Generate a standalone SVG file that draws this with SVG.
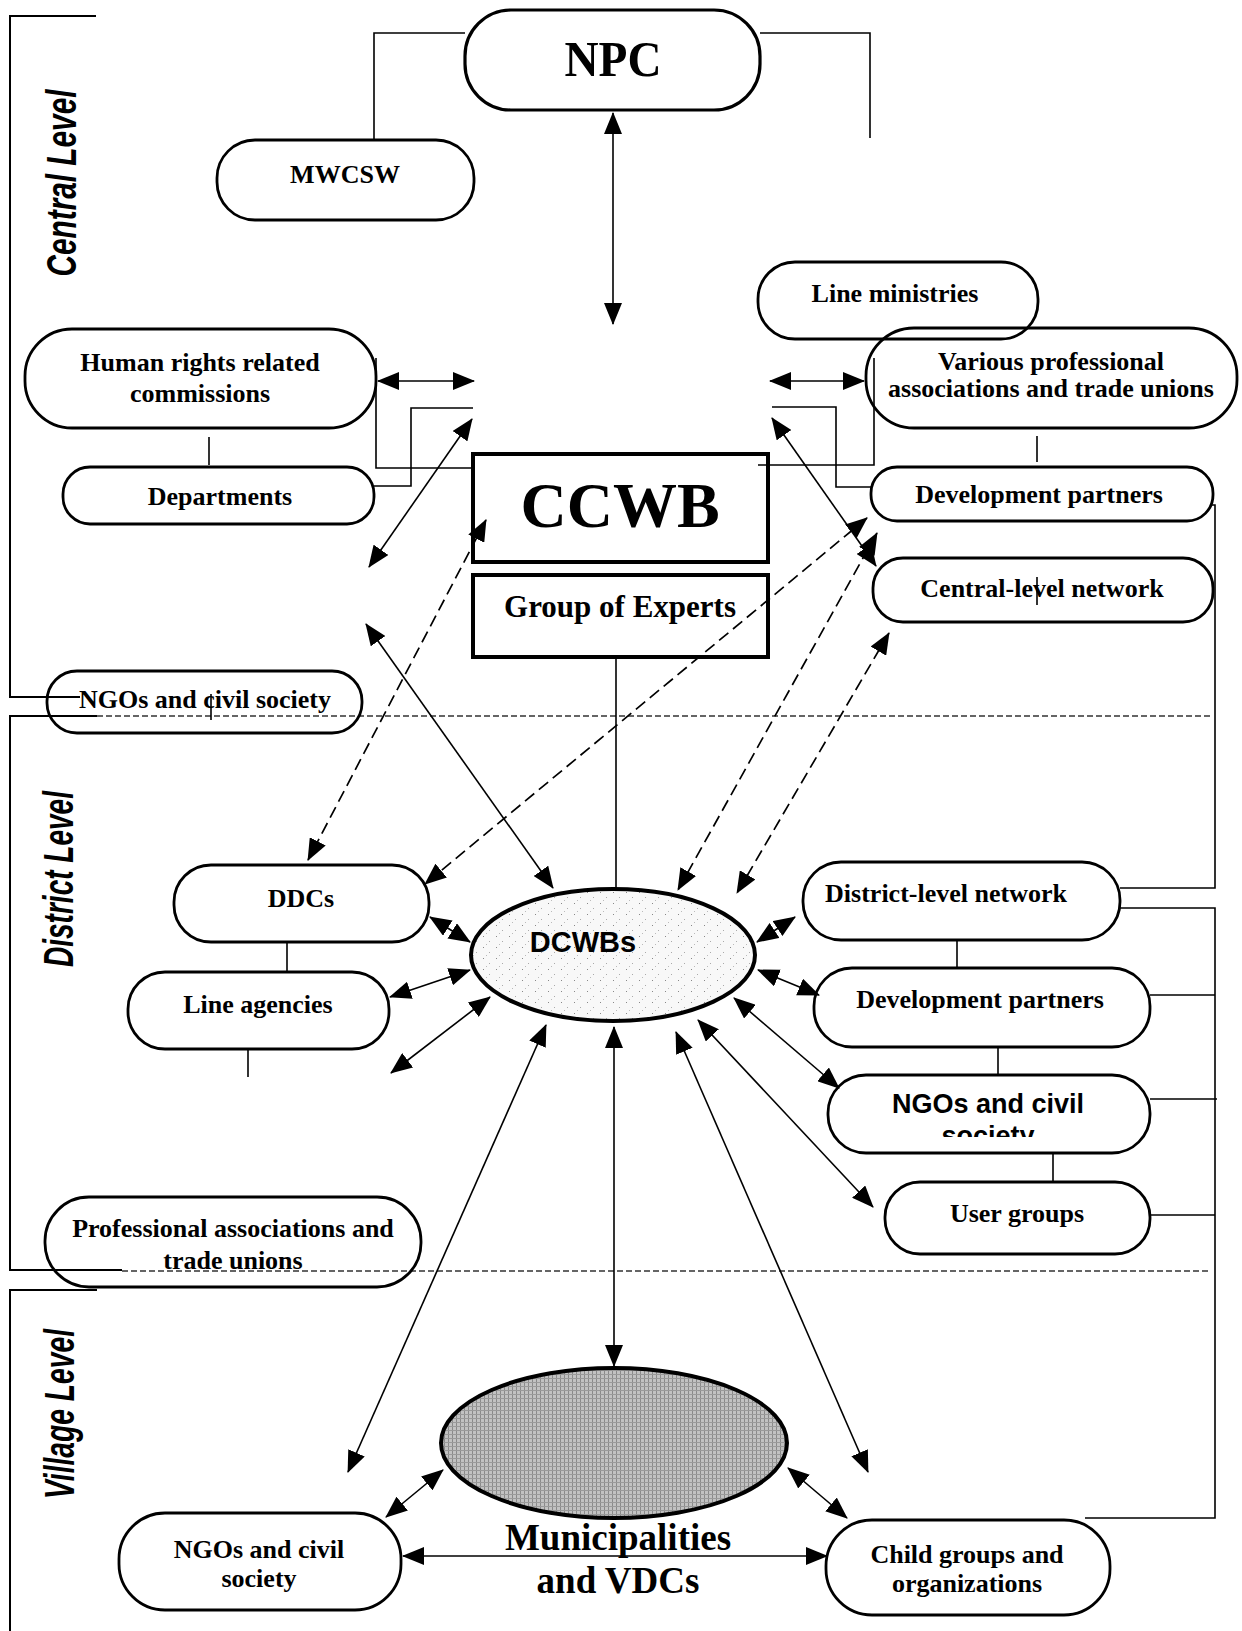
<svg xmlns="http://www.w3.org/2000/svg" width="1242" height="1631" viewBox="0 0 1242 1631">
<style>
.bx{fill:none;stroke:#000;stroke-width:2.8}
.bxt{fill:none;stroke:#000;stroke-width:4}
.t{font-family:"Liberation Serif","Times New Roman",serif;font-weight:bold;font-size:26px;text-anchor:middle;fill:#000}
.s{font-family:"Liberation Sans",Arial,sans-serif;font-weight:bold;text-anchor:middle;fill:#000}
.lv{font-family:"Liberation Sans",Arial,sans-serif;font-weight:bold;font-style:italic;font-size:42px;text-anchor:middle;fill:#000}
.ln{fill:none;stroke:#000;stroke-width:1.6}
.fr{fill:none;stroke:#000;stroke-width:2}
.dv{fill:none;stroke:#333;stroke-width:1.6;stroke-dasharray:6 3}
.ar{fill:none;stroke:#000;stroke-width:1.6;marker-start:url(#ah);marker-end:url(#ah)}
.ad{fill:none;stroke:#000;stroke-width:1.7;stroke-dasharray:12 6;marker-start:url(#ah);marker-end:url(#ah)}
</style>
<defs>
<marker id="ah" viewBox="0 0 22 18" refX="21" refY="9" markerWidth="22" markerHeight="18" markerUnits="userSpaceOnUse" orient="auto-start-reverse">
<path d="M0,0 L22,9 L0,18 z" fill="#000"/>
</marker>
<pattern id="stip" width="13" height="11" patternUnits="userSpaceOnUse">
<rect width="13" height="11" fill="#f8f8f8"/>
<rect x="2" y="1" width="1" height="1" fill="#888"/>
<rect x="8" y="6" width="1" height="1" fill="#aaa"/>
<rect x="5" y="9" width="1" height="1" fill="#bbb"/>
</pattern>
<pattern id="dense" width="4" height="4" patternUnits="userSpaceOnUse">
<rect width="4" height="4" fill="#c2c2c2"/>
<rect x="0" y="0" width="1" height="4" fill="#8a8a8a"/>
<rect x="0" y="2" width="4" height="1" fill="#9a9a9a"/>
</pattern>
<clipPath id="clipSoc"><rect x="828" y="1075" width="322" height="62"/></clipPath>
</defs>
<rect width="1242" height="1631" fill="#fff"/>

<g id="levels">
<path class="fr" d="M96,16 H10 V697 H80"/>
<path class="fr" d="M97,716 H10 V1270 H122"/>
<path class="fr" d="M97,1290 H10 V1631"/>
<path class="dv" d="M97,716 H1210"/>
<path class="dv" d="M122,1271 H1210"/>
<text class="lv" transform="translate(76,183) rotate(-90)" textLength="187" lengthAdjust="spacingAndGlyphs">Central Level</text>
<text class="lv" transform="translate(73,879) rotate(-90)" textLength="176" lengthAdjust="spacingAndGlyphs">District Level</text>
<text class="lv" transform="translate(74,1414) rotate(-90)" textLength="170" lengthAdjust="spacingAndGlyphs">Village Level</text>
</g>

<g id="connectors">
<path class="ln" d="M465,33 H374 V140"/>
<path class="ln" d="M760,33 H870 V138"/>
<path class="ln" d="M376,358 V468 H473"/>
<path class="ln" d="M374,486 H411 V408 H473"/>
<path class="ln" d="M874,358 V465 H758"/>
<path class="ln" d="M871,487 H836 V407 H772"/>
<path class="ln" d="M209,437 V465"/>
<path class="ln" d="M1037,436 V462"/>
<path class="ln" d="M616,657 V889"/>
<path class="ln" d="M1210,505 H1215 V888 H1120"/>
<path class="ln" d="M1120,908 H1215 V1518 H1085"/>
<path class="ln" d="M1150,995 H1215"/>
<path class="ln" d="M1150,1099 H1217"/>
<path class="ln" d="M1150,1215 H1215"/>
<path class="ln" d="M957,940 V968"/>
<path class="ln" d="M998,1047 V1075"/>
<path class="ln" d="M1053,1153 V1182"/>
<path class="ln" d="M287,943 V972"/>
<path class="ln" d="M248,1050 V1077"/>
<path class="ln" d="M211,694 V720"/>
<path class="ln" d="M1037,577 V605"/>

<path class="ar" d="M613,113 L613,324"/>
<path class="ar" d="M378,381 L474,381"/>
<path class="ar" d="M770,381 L864,381"/>
<path class="ar" d="M472,419 L369,567"/>
<path class="ar" d="M772,418 L876,566"/>
<path class="ar" d="M366,624 L553,888"/>
<path class="ar" d="M430,917 L470,942"/>
<path class="ar" d="M390,997 L470,970"/>
<path class="ar" d="M391,1073 L490,997"/>
<path class="ar" d="M546,1025 L348,1472"/>
<path class="ar" d="M614,1027 L614,1366"/>
<path class="ar" d="M676,1032 L868,1472"/>
<path class="ar" d="M698,1020 L873,1207"/>
<path class="ar" d="M734,998 L839,1088"/>
<path class="ar" d="M758,970 L819,995"/>
<path class="ar" d="M757,942 L795,917"/>
<path class="ar" d="M443,1470 L386,1517"/>
<path class="ar" d="M788,1468 L847,1518"/>
<path class="ar" d="M403,1556 L827,1556"/>

<path class="ad" d="M486,520 L308,860"/>
<path class="ad" d="M867,518 L425,884"/>
<path class="ad" d="M877,533 L678,890"/>
<path class="ad" d="M889,633 L737,893"/>
</g>

<g id="npc"><rect class="bx" x="465" y="10" width="295" height="100" rx="46" style="stroke-width:3.2"/>
<text class="t" x="613" y="76" style="font-size:50px" textLength="97" lengthAdjust="spacingAndGlyphs">NPC</text></g>
<g id="mwcsw"><rect class="bx" x="217" y="140" width="257" height="80" rx="38"/>
<text class="t" x="345" y="183">MWCSW</text></g>
<g id="hr"><rect class="bx" x="25" y="329" width="351" height="99" rx="47"/>
<text class="t" x="200" y="371">Human rights related</text>
<text class="t" x="200" y="402">commissions</text></g>
<g id="departments"><rect class="bx" x="63" y="467" width="311" height="57" rx="27"/>
<text class="t" x="220" y="505">Departments</text></g>
<g id="line-ministries"><rect class="bx" x="758" y="262" width="280" height="77" rx="37"/>
<text class="t" x="895" y="302">Line ministries</text></g>
<g id="various"><rect class="bx" x="866" y="328" width="371" height="100" rx="48"/>
<text class="t" x="1051" y="370">Various professional</text>
<text class="t" x="1051" y="397">associations and trade unions</text></g>
<g id="devp-central"><rect class="bx" x="871" y="467" width="342" height="54" rx="26"/>
<text class="t" x="1039" y="503">Development partners</text></g>
<g id="central-network"><rect class="bx" x="873" y="558" width="340" height="64" rx="30"/>
<text class="t" x="1042" y="597">Central-level network</text></g>
<g id="ngos-central"><rect class="bx" x="47" y="671" width="315" height="62" rx="30"/>
<text class="t" x="205" y="708">NGOs and civil society</text></g>
<g id="ccwb"><rect class="bxt" x="473" y="454" width="295" height="108"/>
<text class="t" x="620" y="527" style="font-size:64px">CCWB</text></g>
<g id="experts"><rect class="bxt" x="473" y="575" width="295" height="82"/>
<text class="t" x="620" y="617" style="font-size:31px">Group of Experts</text></g>

<g id="ddcs"><rect class="bx" x="174" y="865" width="255" height="77" rx="37"/>
<text class="t" x="301" y="907">DDCs</text></g>
<g id="line-agencies"><rect class="bx" x="128" y="972" width="261" height="77" rx="37"/>
<text class="t" x="258" y="1013">Line agencies</text></g>
<g id="professional"><rect class="bx" x="45" y="1197" width="376" height="90" rx="44"/>
<text class="t" x="233" y="1237">Professional associations and</text>
<text class="t" x="233" y="1269">trade unions</text></g>
<g id="dcwbs"><ellipse cx="613" cy="955" rx="142" ry="66" fill="url(#stip)" stroke="#000" stroke-width="4"/>
<text class="s" x="583" y="952" style="font-size:29px">DCWBs</text></g>
<g id="district-network"><rect class="bx" x="803" y="862" width="317" height="78" rx="38"/>
<text class="t" x="946" y="902">District-level network</text></g>
<g id="devp-district"><rect class="bx" x="814" y="968" width="336" height="79" rx="38"/>
<text class="t" x="980" y="1008">Development partners</text></g>
<g id="ngos-district"><rect class="bx" x="828" y="1075" width="322" height="78" rx="38"/>
<text class="s" x="988" y="1113" style="font-size:27px">NGOs and civil</text>
<text class="s" x="988" y="1145" style="font-size:27px" clip-path="url(#clipSoc)">society</text></g>
<g id="user-groups"><rect class="bx" x="885" y="1182" width="265" height="72" rx="35"/>
<text class="t" x="1017" y="1222">User groups</text></g>

<g id="municipalities"><ellipse cx="614" cy="1443" rx="173" ry="75" fill="url(#dense)" stroke="#000" stroke-width="4"/>
<text class="t" x="618" y="1550" style="font-size:37px">Municipalities</text>
<text class="t" x="618" y="1593" style="font-size:37px">and VDCs</text></g>
<g id="ngos-village"><rect class="bx" x="119" y="1513" width="282" height="97" rx="46"/>
<text class="t" x="259" y="1558">NGOs and civil</text>
<text class="t" x="259" y="1587">society</text></g>
<g id="child-groups"><rect class="bx" x="826" y="1520" width="284" height="95" rx="46"/>
<text class="t" x="967" y="1563">Child groups and</text>
<text class="t" x="967" y="1592">organizations</text></g>
</svg>
